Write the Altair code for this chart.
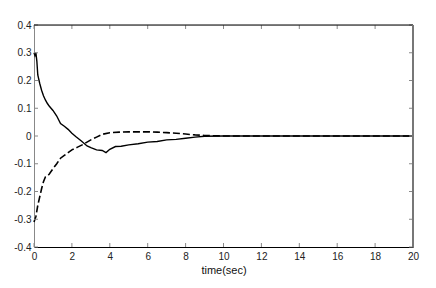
import altair as alt
import pandas as pd

# Solid curve
x_solid = [0, 0.05, 0.1, 0.15, 0.2, 0.3, 0.4, 0.5, 0.6, 0.7, 0.8, 1.0, 1.2, 1.4, 1.6, 1.8,
           2.0, 2.2, 2.5, 2.8, 3.0, 3.3, 3.6, 3.8, 4.0, 4.3, 4.6, 5.0, 5.5, 6.0, 6.5, 7.0,
           7.5, 8.0, 8.5, 9.0, 10, 12, 14, 16, 18, 20]
y_solid = [0.30, 0.29, 0.30, 0.27, 0.22, 0.19, 0.165, 0.145, 0.13, 0.118, 0.108, 0.092,
           0.072, 0.045, 0.035, 0.024, 0.01, -0.002, -0.018, -0.036, -0.042, -0.05, -0.052,
           -0.06, -0.048, -0.038, -0.037, -0.032, -0.028, -0.022, -0.02, -0.014, -0.012,
           -0.008, -0.004, -0.001, 0, 0, 0, 0, 0, 0]

# Dashed curve
x_dash = [0, 0.05, 0.1, 0.2, 0.3, 0.4, 0.5, 0.6, 0.8, 1.0, 1.2, 1.4, 1.6, 1.8, 2.0, 2.3,
          2.6, 3.0, 3.3, 3.6, 4.0, 4.5, 5.0, 5.5, 6.0, 6.5, 7.0, 7.5, 8.0, 8.5, 9.0, 10,
          12, 14, 16, 18, 20]
y_dash = [-0.31, -0.30, -0.29, -0.25, -0.22, -0.19, -0.165, -0.148, -0.138, -0.118, -0.1,
          -0.08, -0.07, -0.06, -0.05, -0.04, -0.03, -0.014, -0.004, 0.006, 0.012, 0.014,
          0.015, 0.015, 0.015, 0.014, 0.012, 0.01, 0.007, 0.004, 0.002, 0, 0, 0, 0, 0, 0]

x_ticks = [0, 2, 4, 6, 8, 10, 12, 14, 16, 18, 20]
y_ticks = [-0.4, -0.3, -0.2, -0.1, 0, 0.1, 0.2, 0.3, 0.4]

W, H = 379, 222

df_s = pd.DataFrame({"t": x_solid, "v": y_solid})
df_d = pd.DataFrame({"t": x_dash, "v": y_dash})
df_xt = pd.DataFrame({"t": x_ticks})
df_yt = pd.DataFrame({"v": y_ticks})
df_one = pd.DataFrame({"k": [0]})

xs = alt.Scale(domain=[0, 20], nice=False)
ys = alt.Scale(domain=[-0.4, 0.4], nice=False)

xaxis = alt.Axis(values=x_ticks, ticks=False, grid=False, domainColor="#000",
                 labelOverlap=False, labelFlush=False,
                 labelFont="Liberation Sans", labelFontSize=10, labelColor="#222",
                 labelPadding=4, title="time(sec)", titleFont="Liberation Sans",
                 titleFontSize=11, titleFontWeight="normal", titleColor="#111",
                 titlePadding=3)
yaxis = alt.Axis(values=y_ticks, ticks=False, grid=False, domainColor="#888",
                 labelOverlap=False, labelFlush=False,
                 labelFont="Liberation Sans", labelFontSize=10, labelColor="#222",
                 labelPadding=3, title=None,
                 labelExpr="datum.value == 0 ? '0' : replace(format(datum.value, '.1f'), '\u2212', '-')")

X = alt.X("t:Q", scale=xs, axis=xaxis)
Y = alt.Y("v:Q", scale=ys, axis=yaxis)

solid = alt.Chart(df_s).mark_line(color="black", strokeWidth=1.4).encode(x=X, y=Y)
dashed = alt.Chart(df_d).mark_line(color="black", strokeWidth=1.6, strokeDash=[7, 3]).encode(x=X, y=Y)

tick_col = "#888"
bt = alt.Chart(df_xt).mark_rule(color=tick_col).encode(
    x=X, y=alt.value(H), y2=alt.value(H - 4))
tt = alt.Chart(df_xt).mark_rule(color=tick_col).encode(
    x=X, y=alt.value(0), y2=alt.value(4))
lt = alt.Chart(df_yt).mark_rule(color=tick_col).encode(
    y=Y, x=alt.value(0), x2=alt.value(4))
rt = alt.Chart(df_yt).mark_rule(color=tick_col).encode(
    y=Y, x=alt.value(W), x2=alt.value(W - 4))

top_line = alt.Chart(df_one).mark_rule(color="black", strokeWidth=1).encode(
    x=alt.value(0), x2=alt.value(W), y=alt.value(0))
right_line = alt.Chart(df_one).mark_rule(color="#777", strokeWidth=2).encode(
    x=alt.value(W), y=alt.value(0), y2=alt.value(H))

chart = alt.layer(solid, dashed, bt, tt, lt, rt, top_line, right_line).properties(
    width=W, height=H,
    autosize=alt.AutoSizeParams(type="none"),
    padding={"left": 26, "top": 17, "right": 10, "bottom": 31},
).configure_view(stroke=None).configure(background="white")

chart.save("out.html", embed_options={"renderer": "svg", "actions": False})
